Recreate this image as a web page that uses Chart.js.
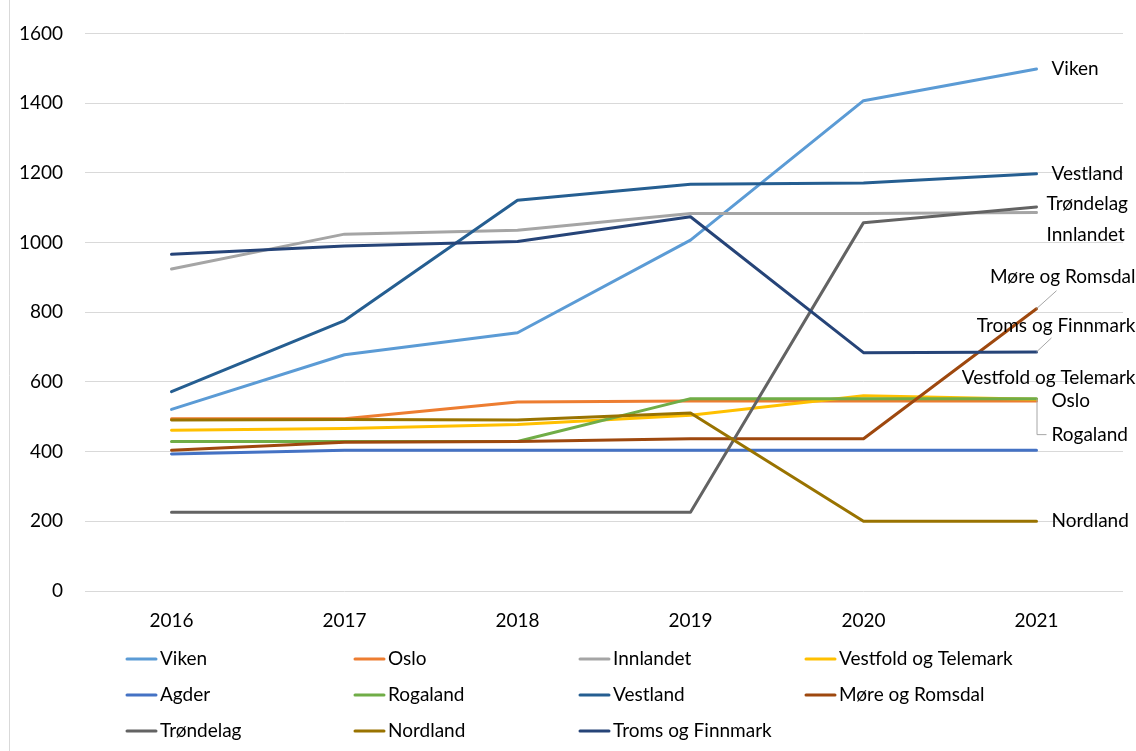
<!DOCTYPE html>
<html>
<head>
<meta charset="utf-8">
<script src="https://cdn.jsdelivr.net/npm/chart.js@4.4.0/dist/chart.umd.min.js"></script>
<style>
  html, body { margin: 0; padding: 0; background: #fff; }
  #wrap { width: 1136px; height: 751px; }
</style>
</head>
<body>
<div id="wrap"><canvas id="chart"></canvas></div>
<script>
const years = ['2016', '2017', '2018', '2019', '2020', '2021'];

const viken     = [521, 678, 741, 1007, 1407, 1498];
const oslo      = [494, 494, 542, 545, 545, 545];
const innlandet = [924, 1024, 1035, 1083, 1083, 1086];
const vestfold  = [461, 466, 478, 504, 560, 550];
const agder     = [393, 404, 404, 404, 404, 404];
const rogaland  = [429, 429, 429, 552, 552, 552];
const vestland  = [572, 776, 1121, 1167, 1171, 1197];
const more      = [404, 427, 429, 437, 437, 810];
const trondelag = [226, 226, 226, 226, 1057, 1102];
const nordland  = [491, 492, 491, 511, 200, 200];
const troms     = [966, 990, 1003, 1074, 684, 686];

const seriesNames = ['Viken', 'Oslo', 'Innlandet', 'Vestfold og Telemark', 'Agder', 'Rogaland',
  'Vestland', 'Møre og Romsdal', 'Trøndelag', 'Nordland', 'Troms og Finnmark'];
const seriesData = [viken, oslo, innlandet, vestfold, agder, rogaland, vestland, more, trondelag, nordland, troms];
const colors = ['#5B9BD5', '#ED7D31', '#A5A5A5', '#FFC000', '#4472C4', '#70AD47',
  '#255E91', '#9E480E', '#636363', '#997300', '#264478'];

const FONT = 'Lato, "Open Sans", sans-serif';
const TEXT = '#000';

// end-of-line labels: offset from last point, optional leader
const endLabels = {
  'Viken':                { dx: 15, dy: 0 },
  'Vestland':             { dx: 15, dy: 0 },
  'Trøndelag':            { dx: 10, dy: -3 },
  'Innlandet':            { dx: 10, dy: 22 },
  'Møre og Romsdal':      { dx: 99, dy: -32, align: 'right', leader: 'diag', lx: 20, ly: -18 },
  'Troms og Finnmark':    { dx: 99, dy: -26, align: 'right', leader: 'diag', lx: 15, ly: -14 },
  'Vestfold og Telemark': { dx: 99, dy: -21, align: 'right' },
  'Oslo':                 { dx: 15, dy: 0 },
  'Rogaland':             { dx: 15, dy: 36, leader: 'elbow' },
  'Nordland':             { dx: 15, dy: 0 }
};

const datasets = seriesNames.map((name, i) => ({
  label: name,
  data: seriesData[i],
  borderColor: colors[i],
  backgroundColor: colors[i],
  borderWidth: 3,
  pointRadius: 0,
  tension: 0,
  borderCapStyle: 'round',
  borderJoinStyle: 'round',
  order: -i
}));

const labelPlugin = {
  id: 'endLabels',
  afterDatasetsDraw(chart) {
    const ctx = chart.ctx;
    ctx.save();
    ctx.font = '19px ' + FONT;
    ctx.fillStyle = '#000';
    ctx.textBaseline = 'middle';
    chart.data.datasets.forEach((ds, i) => {
      const cfg = endLabels[ds.label];
      if (!cfg) return;
      const pts = chart.getDatasetMeta(i).data;
      const p = pts[pts.length - 1];
      if (cfg.leader === 'diag') {
        ctx.strokeStyle = '#a6a6a6';
        ctx.lineWidth = 1;
        ctx.beginPath();
        ctx.moveTo(p.x, p.y);
        ctx.lineTo(p.x + cfg.lx, p.y + cfg.ly);
        ctx.stroke();
      } else if (cfg.leader === 'elbow') {
        ctx.strokeStyle = '#a6a6a6';
        ctx.lineWidth = 1;
        ctx.beginPath();
        ctx.moveTo(p.x + 0.5, p.y);
        ctx.lineTo(p.x + 0.5, p.y + cfg.dy);
        ctx.lineTo(p.x + cfg.dx - 5, p.y + cfg.dy);
        ctx.stroke();
      }
      ctx.textAlign = cfg.align || 'left';
      ctx.fillText(ds.label, p.x + cfg.dx, p.y + cfg.dy);
    });
    ctx.restore();
  },
  afterDraw(chart) {
    const ctx = chart.ctx;
    // thin frame edge on the left
    ctx.save();
    ctx.strokeStyle = '#d9d9d9';
    ctx.lineWidth = 1;
    ctx.beginPath();
    ctx.moveTo(9.5, 0);
    ctx.lineTo(9.5, chart.height);
    ctx.stroke();

    // legend in four columns under the plot
    const colX = [127, 355, 580, 806];
    const rowY = [659, 695, 731];
    ctx.font = '19px ' + FONT;
    ctx.textBaseline = 'middle';
    ctx.textAlign = 'left';
    chart.data.datasets.forEach((ds, i) => {
      const x = colX[i % 4];
      const y = rowY[Math.floor(i / 4)];
      ctx.strokeStyle = ds.borderColor;
      ctx.lineWidth = 3;
      ctx.lineCap = 'round';
      ctx.beginPath();
      ctx.moveTo(x, y);
      ctx.lineTo(x + 29, y);
      ctx.stroke();
      ctx.fillStyle = TEXT;
      ctx.fillText(ds.label, x + 33, y);
    });
    ctx.restore();
  }
};

new Chart(document.getElementById('chart'), {
  type: 'line',
  data: { labels: years, datasets },
  options: {
    responsive: true,
    maintainAspectRatio: false,
    animation: false,
    layout: { padding: { top: 22, right: 13, bottom: 110, left: 0 } },
    plugins: { legend: { display: false }, tooltip: { enabled: false } },
    scales: {
      x: {
        offset: true,
        grid: { display: false, drawTicks: false },
        border: { display: false },
        ticks: { color: TEXT, font: { family: FONT, size: 19 }, padding: 18 },
        afterFit(scale) { scale.height = 50; }
      },
      y: {
        min: 0,
        max: 1600,
        ticks: {
          stepSize: 200,
          color: TEXT,
          font: { family: FONT, size: 19 },
          padding: 22,
          callback: (v) => String(v)
        },
        grid: { color: '#d9d9d9', lineWidth: 1, drawTicks: false },
        border: { display: false },
        afterFit(scale) { scale.width = 85; }
      }
    }
  },
  plugins: [labelPlugin]
});
</script>
</body>
</html>
